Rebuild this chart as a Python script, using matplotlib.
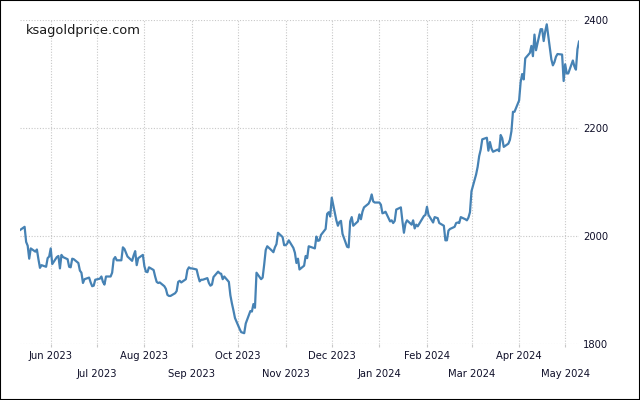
import numpy as np
import pandas as pd
import matplotlib
matplotlib.use("Agg")
import matplotlib.pyplot as plt
import matplotlib.dates as mdates
from matplotlib.patches import Rectangle

# gold price, one value per business day (12 May 2023 .. 10 May 2024)
start_date = "2023-05-12"
end_date = "2024-05-10"

prices_may23 = [2011, 2017, 1989, 1982, 1958, 1977, 1971, 1975, 1957, 1941, 1946,
                1943, 1959, 1962]
prices_jun23 = [1977, 1948, 1961, 1963, 1940, 1965, 1961, 1957, 1943, 1942, 1958, 1957,
                1950, 1936, 1932, 1913, 1920, 1923, 1914, 1907, 1908, 1919]
prices_jul23 = [1921, 1925, 1915, 1910, 1925, 1925, 1932, 1957, 1961, 1955,
                1955, 1979, 1976, 1969, 1962, 1954, 1964, 1972, 1946, 1959, 1965]
prices_aug23 = [1944, 1934, 1933, 1942, 1937, 1925, 1915, 1913, 1914, 1907, 1902, 1891,
                1889, 1889, 1894, 1898, 1915, 1917, 1914, 1920, 1937, 1942, 1940]
prices_sep23 = [1940, 1938, 1926, 1916, 1919, 1919, 1922, 1913, 1908, 1910, 1924,
                1934, 1931, 1930, 1920, 1925, 1915, 1890, 1875, 1862, 1848]
prices_oct23 = [1828, 1822, 1821, 1820, 1838, 1861, 1860, 1874, 1867, 1932, 1920, 1923,
                1947, 1974, 1981, 1973, 1970, 1979, 1985, 2006, 1998, 1983]
prices_nov23 = [1983, 1986, 1992, 1978, 1969, 1950, 1958, 1938, 1945, 1963, 1959, 1981,
                1980, 1977, 1999, 1991, 1992, 2002, 2013, 2041, 2044, 2036]
prices_dec23 = [2071, 2029, 2019, 2026, 2028, 2004, 1980, 1979, 2027, 2035, 2019,
                2027, 2040, 2031, 2045, 2053, 2060, 2066, 2077, 2064, 2062]
prices_jan24 = [2062, 2058, 2042, 2043, 2045, 2027, 2029, 2024, 2028, 2049, 2053, 2028,
                2006, 2023, 2029, 2021, 2029, 2014, 2021, 2018, 2032, 2037, 2039]
prices_feb24 = [2054, 2039, 2025, 2035, 2034, 2033, 2024, 2019, 1992, 1992, 2010, 2013,
                2017, 2024, 2025, 2024, 2035, 2031, 2029, 2034, 2044]
prices_mar24 = [2083, 2114, 2128, 2148, 2160, 2179, 2182, 2158, 2174, 2162, 2156,
                2160, 2157, 2187, 2181, 2165, 2171, 2178, 2194, 2230, 2230]
prices_apr24 = [2251, 2285, 2300, 2290, 2329, 2339, 2352, 2333, 2373, 2344, 2383, 2383,
                2361, 2379, 2392, 2327, 2316, 2322, 2332, 2337, 2336, 2287]
prices_may24 = [2318, 2301, 2301, 2325, 2314, 2308, 2346, 2360]

y_ticks = [1800, 2000, 2200, 2400]
watermark = "ksagoldprice.com"

dates = pd.bdate_range(start_date, end_date)
prices = (prices_may23 + prices_jun23 + prices_jul23 + prices_aug23 + prices_sep23
          + prices_oct23 + prices_nov23 + prices_dec23 + prices_jan24 + prices_feb24
          + prices_mar24 + prices_apr24 + prices_may24)

fig = plt.figure(figsize=(6.4, 4.0), dpi=100)
ax = fig.add_axes([20 / 640, 56 / 400, 559 / 640, 324 / 400])

ax.plot(dates, prices, color="#4682b4", linewidth=1.6, solid_joinstyle="round")

ax.set_xlim(dates[0], dates[-1])
ax.set_ylim(1800, 2400)
ax.set_yticks(y_ticks)
ax.yaxis.tick_right()

ax.xaxis.set_major_locator(mdates.MonthLocator())
ax.xaxis.set_major_formatter(mdates.DateFormatter("%b %Y"))

for s in ax.spines.values():
    s.set_visible(False)

ax.grid(True, color="#c8c8c8", linestyle=(0, (1, 1.5)), linewidth=0.8)
ax.tick_params(axis="x", length=2.5, color="#c8c8c8", labelsize=7.2, labelcolor="#10102a")
ax.tick_params(axis="y", length=0, pad=3, labelsize=7.2, labelcolor="#10102a")

# staggered month labels
for i, t in enumerate(ax.xaxis.get_major_ticks()):
    t.set_pad(2.5 if i % 2 == 0 else 15.5)

ax.text(0.011, 0.968, watermark, transform=ax.transAxes, fontsize=9.4,
        color="#1a1a1a", va="center", ha="left")

fig.patches.append(Rectangle((0, 0), 1, 1, transform=fig.transFigure, fill=False,
                             edgecolor="black", linewidth=1.5))

fig.savefig("out.png", dpi=100)
